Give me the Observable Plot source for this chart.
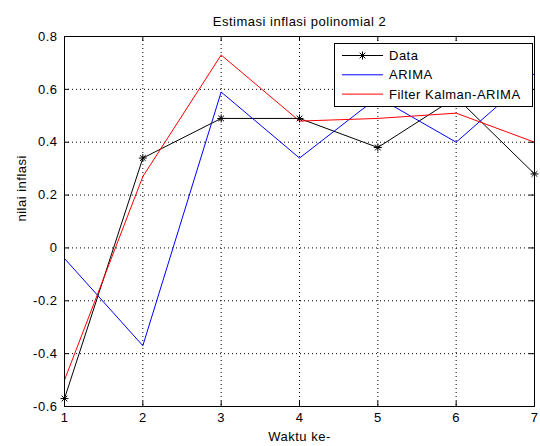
<!DOCTYPE html>
<html><head><meta charset="utf-8">
<script src="https://cdn.jsdelivr.net/npm/d3@7"></script>
<script src="https://cdn.jsdelivr.net/npm/@observablehq/plot@0.6"></script>
<style>body{margin:0;background:#fff} svg{display:block} svg text{letter-spacing:0.5px}</style>
</head><body><div id="chart"></div>
<script>
// ---- data ----
const waktu = [1, 2, 3, 4, 5, 6, 7];
const dataVals = [-0.57, 0.34, 0.49, 0.49, 0.38, 0.57, 0.28];
const arimaVals = [-0.04, -0.37, 0.59, 0.34, 0.57, 0.40, 0.66];
const kalmanVals = [-0.50, 0.27, 0.73, 0.48, 0.49, 0.51, 0.40];
const seriesNames = ["Data", "ARIMA", "Filter Kalman-ARIMA"];
const seriesColors = ["#000000", "#0000ff", "#ff0000"];
const xTicks = [1, 2, 3, 4, 5, 6, 7];
const yTicks = [-0.6, -0.4, -0.2, 0, 0.2, 0.4, 0.6, 0.8];
const titleText = "Estimasi inflasi polinomial 2";
const xLabel = "Waktu ke-";
const yLabel = "nilai inflasi";

// ---- layout ----
const W = 540, H = 446, mL = 64, mR = 6, mT = 36, mB = 40;
const plotW = W - mL - mR, plotH = H - mT - mB;
const font = "'Liberation Sans', Arial, Helvetica, sans-serif";
const fs = 13;

const allVals = [dataVals, arimaVals, kalmanVals];
const rows = [];
seriesNames.forEach((s, i) => waktu.forEach((x, j) => rows.push({series: s, x, y: allVals[i][j]})));
const dataRows = rows.filter(d => d.series === "Data");
const fmt = d => String(+(+d).toFixed(1));
const interiorX = xTicks.slice(1, -1), interiorY = yTicks.slice(1, -1);

const svg = Plot.plot({
  width: W, height: H,
  marginLeft: mL, marginRight: mR, marginTop: mT, marginBottom: mB,
  style: {fontFamily: font, fontSize: fs + "px", color: "#000", background: "#fff"},
  x: {domain: [1, 7], label: null},
  y: {domain: [-0.6, 0.8], label: null},
  color: {domain: seriesNames, range: seriesColors},
  marks: [
    Plot.gridX(interiorX, {stroke: "#000", strokeOpacity: 1, strokeDasharray: "1,3"}),
    Plot.gridY(interiorY, {stroke: "#000", strokeOpacity: 1, strokeDasharray: "1,3"}),
    Plot.line(rows, {x: "x", y: "y", z: "series", stroke: "series", strokeWidth: 1}),
    Plot.dot(dataRows, {x: "x", y: "y", symbol: "plus", r: 2.7, stroke: "#000", strokeWidth: 1}),
    Plot.dot(dataRows, {x: "x", y: "y", symbol: "times", r: 2.7, stroke: "#000", strokeWidth: 1}),
    Plot.frame({stroke: "#000", strokeWidth: 1}),
    Plot.tickX(xTicks, {x: d => d, insetTop: plotH - 5, stroke: "#000"}),
    Plot.tickX(xTicks, {x: d => d, insetBottom: plotH - 5, stroke: "#000"}),
    Plot.tickY(yTicks, {y: d => d, insetRight: plotW - 5, stroke: "#000"}),
    Plot.tickY(yTicks, {y: d => d, insetLeft: plotW - 5, stroke: "#000"}),
    Plot.axisX(xTicks, {anchor: "bottom", tickSize: 0, tickPadding: 6, label: null, tickFormat: fmt, fontSize: fs}),
    Plot.axisY(yTicks, {anchor: "left", tickSize: 0, tickPadding: 7, label: null, tickFormat: fmt, fontSize: fs}),
    Plot.text([titleText], {frameAnchor: "top", dy: -15, fontSize: fs, lineAnchor: "middle"}),
    Plot.text([xLabel], {frameAnchor: "bottom", dy: 30, fontSize: fs, lineAnchor: "middle"}),
    Plot.text([yLabel], {frameAnchor: "left", dx: -43, rotate: -90, fontSize: fs, lineAnchor: "middle"})
  ]
});

// ---- legend box (inside the axes, top-right) ----
const g = d3.select(svg).append("g").attr("font-family", font).attr("font-size", fs)
  .attr("text-anchor", "start");
g.append("rect").attr("x", 334.5).attr("y", 43.5).attr("width", 198).attr("height", 63)
  .attr("fill", "#fff").attr("stroke", "#000");
seriesNames.forEach((s, i) => {
  const yy = 55.5 + i * 19.3;
  g.append("line").attr("x1", 342).attr("x2", 383).attr("y1", yy).attr("y2", yy)
    .attr("stroke", seriesColors[i]);
  if (i === 0) {
    const sz = 2.7 * 2.7 * Math.PI;
    [d3.symbolPlus, d3.symbolTimes].forEach(t =>
      g.append("path").attr("d", d3.symbol(t, sz)()).attr("transform", `translate(362.5,${yy})`)
        .attr("fill", "none").attr("stroke", "#000"));
  }
  g.append("text").attr("x", 389).attr("y", yy).attr("dy", "0.35em").text(s);
});

document.getElementById("chart").appendChild(svg);
</script>
</body></html>
